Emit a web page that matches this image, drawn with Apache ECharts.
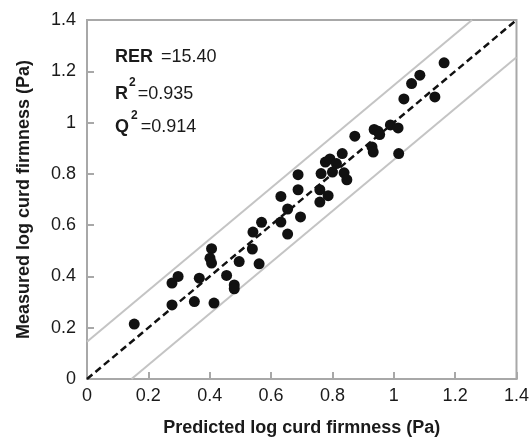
<!DOCTYPE html>
<html>
<head>
<meta charset="utf-8">
<script src="https://cdn.jsdelivr.net/npm/echarts@6/dist/echarts.min.js"></script>
<style>
html,body{margin:0;padding:0;background:#fff;}
#chart{width:532px;height:442px;}
</style>
</head>
<body>
<div id="chart"></div>
<script>
// Data
const predicted = [0.154,0.277,0.277,0.297,0.350,0.366,0.406,0.401,0.406,0.414,0.455,0.480,0.480,0.496,0.539,0.541,0.561,0.569,0.632,0.632,0.654,0.654,0.688,0.688,0.696,0.759,0.759,0.763,0.777,0.792,0.786,0.800,0.813,0.832,0.838,0.847,0.873,0.929,0.933,0.936,0.949,0.954,0.989,1.014,1.016,1.033,1.058,1.085,1.134,1.164];
const measured  = [0.214,0.289,0.374,0.400,0.302,0.393,0.508,0.471,0.452,0.296,0.404,0.367,0.352,0.458,0.507,0.573,0.449,0.611,0.712,0.612,0.663,0.565,0.797,0.738,0.632,0.738,0.690,0.801,0.846,0.858,0.715,0.807,0.840,0.879,0.804,0.777,0.947,0.905,0.885,0.973,0.966,0.953,0.991,0.979,0.879,1.092,1.152,1.185,1.100,1.233];
const xTicks = [0,0.2,0.4,0.6,0.8,1,1.2,1.4];
const yTicks = [0,0.2,0.4,0.6,0.8,1,1.2,1.4];
const oneToOneX = [0, 1.4];
const oneToOneY = [0, 1.4];
const upperX = [0, 1.255];
const upperY = [0.145, 1.4];
const lowerX = [0.145, 1.4];
const lowerY = [0, 1.255];
const xName = 'Predicted log curd firmness (Pa)';
const yName = 'Measured log curd firmness (Pa)';
const statRER = '=15.40';
const statR2 = '=0.935';
const statQ2 = '=0.914';

const zip = (a, b) => a.map((v, i) => [v, b[i]]);
const FONT = '"Liberation Sans", Arial, Helvetica, sans-serif';
const AX = '#a8a8a8';
const TXT = '#1a1a1a';

const chart = echarts.init(document.getElementById('chart'), null, {renderer: 'canvas'});
chart.setOption({
  animation: false,
  backgroundColor: '#fff',
  textStyle: {fontFamily: FONT},
  grid: {left: 87, right: 15, top: 20, bottom: 63, show: true, borderColor: AX, borderWidth: 2, backgroundColor: 'transparent'},
  xAxis: {
    type: 'value', min: xTicks[0], max: xTicks[xTicks.length-1], interval: 0.2,
    name: xName, nameLocation: 'middle', nameGap: 40,
    nameTextStyle: {fontSize: 18, fontWeight: 'bold', color: TXT, fontFamily: FONT},
    axisLine: {show: true, lineStyle: {color: AX, width: 2}},
    axisTick: {show: true, inside: true, length: 7, lineStyle: {color: AX, width: 2}},
    axisLabel: {fontSize: 18, color: TXT, margin: 8, fontFamily: FONT},
    splitLine: {show: false}
  },
  yAxis: {
    type: 'value', min: yTicks[0], max: yTicks[yTicks.length-1], interval: 0.2,
    name: yName, nameLocation: 'middle', nameGap: 54,
    nameTextStyle: {fontSize: 18, fontWeight: 'bold', color: TXT, fontFamily: FONT},
    axisLine: {show: true, lineStyle: {color: AX, width: 2}},
    axisTick: {show: true, inside: true, length: 7, lineStyle: {color: AX, width: 2}},
    axisLabel: {fontSize: 18, color: TXT, margin: 11, fontFamily: FONT},
    splitLine: {show: false}
  },
  series: [
    {type: 'line', data: zip(upperX, upperY), symbol: 'none', lineStyle: {color: '#c4c4c4', width: 2}, z: 1},
    {type: 'line', data: zip(lowerX, lowerY), symbol: 'none', lineStyle: {color: '#c4c4c4', width: 2}, z: 1},
    {type: 'line', data: zip(oneToOneX, oneToOneY), symbol: 'none', lineStyle: {color: '#111', width: 2.5, type: [7, 4]}, z: 2},
    {type: 'scatter', data: zip(predicted, measured), symbol: 'circle', symbolSize: 11, itemStyle: {color: '#111', opacity: 1}, z: 3}
  ],
  graphic: [
    {type: 'text', left: 115, top: 48, style: {
      text: '{b|RER}{n|' + statRER + '}',
      rich: {b: {fontSize: 18, fontWeight: 'bold', fill: TXT, fontFamily: FONT, padding: [0, 8, 0, 0]}, n: {fontSize: 18, fill: TXT, fontFamily: FONT}}
    }},
    {type: 'text', left: 115, top: 77, style: {
      text: '{b|R}{s|2}{n|' + statR2 + '}',
      rich: {
        b: {fontSize: 18, fontWeight: 'bold', fill: TXT, fontFamily: FONT, verticalAlign: 'bottom', lineHeight: 26},
        s: {fontSize: 12, fontWeight: 'bold', fill: TXT, fontFamily: FONT, verticalAlign: 'top', lineHeight: 14, padding: [0, 2, 0, 1]},
        n: {fontSize: 18, fill: TXT, fontFamily: FONT, verticalAlign: 'bottom', lineHeight: 26}
      }
    }},
    {type: 'text', left: 115, top: 110, style: {
      text: '{b|Q}{s|2}{n|' + statQ2 + '}',
      rich: {
        b: {fontSize: 18, fontWeight: 'bold', fill: TXT, fontFamily: FONT, verticalAlign: 'bottom', lineHeight: 26},
        s: {fontSize: 12, fontWeight: 'bold', fill: TXT, fontFamily: FONT, verticalAlign: 'top', lineHeight: 14, padding: [0, 3, 0, 2]},
        n: {fontSize: 18, fill: TXT, fontFamily: FONT, verticalAlign: 'bottom', lineHeight: 26}
      }
    }}
  ]
});
</script>
</body>
</html>
